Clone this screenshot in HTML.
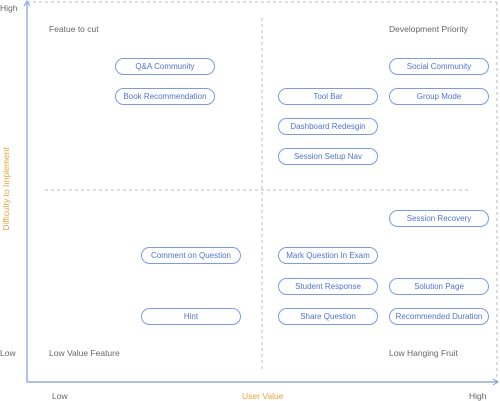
<!DOCTYPE html>
<html><head><style>
body{margin:0;width:500px;height:401px;background:#fff;position:relative;overflow:hidden;font-family:"Liberation Sans",sans-serif}
.p{position:absolute;width:98px;height:15px;border:1px solid #7d9be3;border-radius:9px;color:#4f74d4;font-size:8px;line-height:15px;text-align:center}
.t{position:absolute;color:#666;font-size:8.5px;white-space:nowrap}
</style></head><body>
<svg width="500" height="401" style="position:absolute;left:0;top:0">
<line x1="27" y1="2" x2="497" y2="2" stroke="#bbb" stroke-dasharray="3,3"/>
<line x1="497" y1="2" x2="497" y2="382" stroke="#bbb" stroke-dasharray="3,3"/>
<line x1="262" y1="18" x2="262" y2="372" stroke="#bbb" stroke-dasharray="3,3"/>
<line x1="45" y1="190" x2="468" y2="190" stroke="#bbb" stroke-dasharray="3,3"/>
<line x1="27" y1="3" x2="27" y2="382" stroke="#7d9be3" stroke-width="1.2"/>
<line x1="27" y1="382" x2="497" y2="382" stroke="#7d9be3" stroke-width="1.2"/>
<path d="M24,6 L27,1 L30,6" fill="none" stroke="#7d9be3"/>
<path d="M493,379 L498,382 L493,385" fill="none" stroke="#7d9be3"/>
</svg>
<div class="t" style="left:0;top:3px">High</div>
<div class="t" style="left:0;top:348px">Low</div>
<div class="t" style="left:52px;top:391px">Low</div>
<div class="t" style="left:469px;top:391px">High</div>
<div class="t" style="left:242px;top:391px;color:#e8a33a">User Value</div>
<div class="t" style="left:-44px;top:184px;color:#e8a33a;transform:rotate(-90deg);width:100px;text-align:center">Difficulty to Implement</div>
<div class="t" style="left:49px;top:24px">Featue to cut</div>
<div class="t" style="left:389px;top:24px">Development Priority</div>
<div class="t" style="left:49px;top:348px">Low Value Feature</div>
<div class="t" style="left:389px;top:348px">Low Hanging Fruit</div>
<div class="p" style="left:115px;top:58px">Q&amp;A Community</div>
<div class="p" style="left:115px;top:88px">Book Recommendation</div>
<div class="p" style="left:278px;top:88px">Tool Bar</div>
<div class="p" style="left:278px;top:118px">Dashboard Redesgin</div>
<div class="p" style="left:278px;top:148px">Session Setup Nav</div>
<div class="p" style="left:389px;top:58px">Social Community</div>
<div class="p" style="left:389px;top:88px">Group Mode</div>
<div class="p" style="left:389px;top:210px">Session Recovery</div>
<div class="p" style="left:141px;top:247px">Comment on Question</div>
<div class="p" style="left:141px;top:308px">Hint</div>
<div class="p" style="left:278px;top:247px">Mark Question In Exam</div>
<div class="p" style="left:278px;top:278px">Student Response</div>
<div class="p" style="left:278px;top:308px">Share Question</div>
<div class="p" style="left:389px;top:278px">Solution Page</div>
<div class="p" style="left:389px;top:308px">Recommended Duration</div>
</body></html>
